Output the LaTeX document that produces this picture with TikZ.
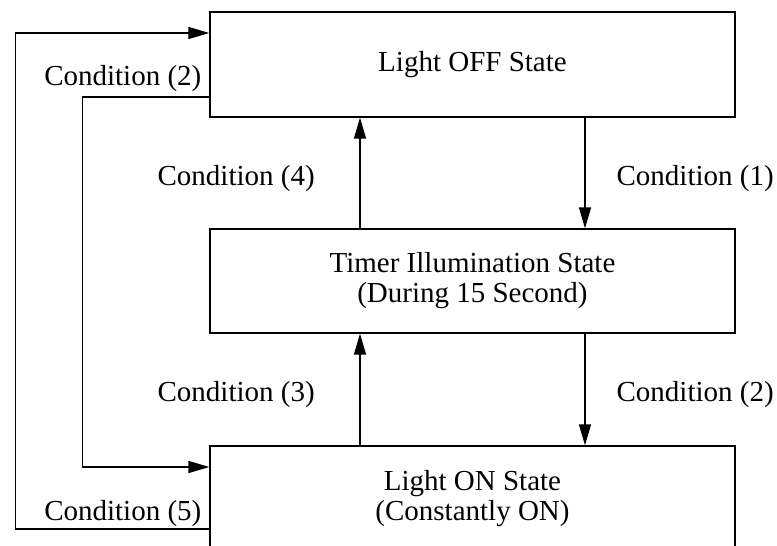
\documentclass[tikz,border=0pt]{standalone}
\usepackage{fontspec}
\setmainfont{Liberation Serif}
\usetikzlibrary{arrows.meta}
\begin{document}
\begin{tikzpicture}[x=1pt,y=-1pt,line width=1.3pt,
  every node/.style={font=\fontsize{29}{30}\selectfont},
  statebox/.style={draw,line width=1.3pt,minimum width=525pt,align=center,inner sep=0pt},
  arr/.style={-{Triangle[length=21pt,width=12pt]}},
  cond/.style={inner sep=0pt}]
\useasboundingbox (0,0) rectangle (777,546);
\clip (0,0) rectangle (777,546);
\node[statebox,minimum height=105pt] (off) at (472.5,64.5) {Light OFF State};
\node[statebox,minimum height=104pt] (timer) at (472.5,281) {Timer Illumination State\\(During 15 Second)};
\node[statebox,minimum height=105pt] (on) at (472.5,498.5) {Light ON State\\(Constantly ON)};
% vertical transitions
\draw[arr] ([xshift=112.5pt]off.south) -- ([xshift=112.5pt]timer.north);
\draw[arr] ([xshift=-112.5pt]timer.north) -- ([xshift=-112.5pt]off.south);
\draw[arr] ([xshift=112.5pt]timer.south) -- ([xshift=112.5pt]on.north);
\draw[arr] ([xshift=-112.5pt]on.north) -- ([xshift=-112.5pt]timer.south);
% left loops
\draw[arr] ([yshift=-30.5pt]on.west) -- ++(-194,0) |- ([yshift=31.5pt]off.west);
\draw[arr] ([yshift=-32.5pt]off.west) -- ++(-127,0) |- ([yshift=31.5pt]on.west);
% labels
\node[cond,anchor=base east] (c2l) at (202,85) {Condition (2)};
\node[cond,anchor=base east] (c5) at (202,520) {Condition (5)};
\node[cond,anchor=base west] (c4) at (157,185) {Condition (4)};
\node[cond,anchor=base west] (c1) at (616,185) {Condition (1)};
\node[cond,anchor=base west] (c3) at (157,401.5) {Condition (3)};
\node[cond,anchor=base west] (c2r) at (616,401.5) {Condition (2)};
\end{tikzpicture}
\end{document}
